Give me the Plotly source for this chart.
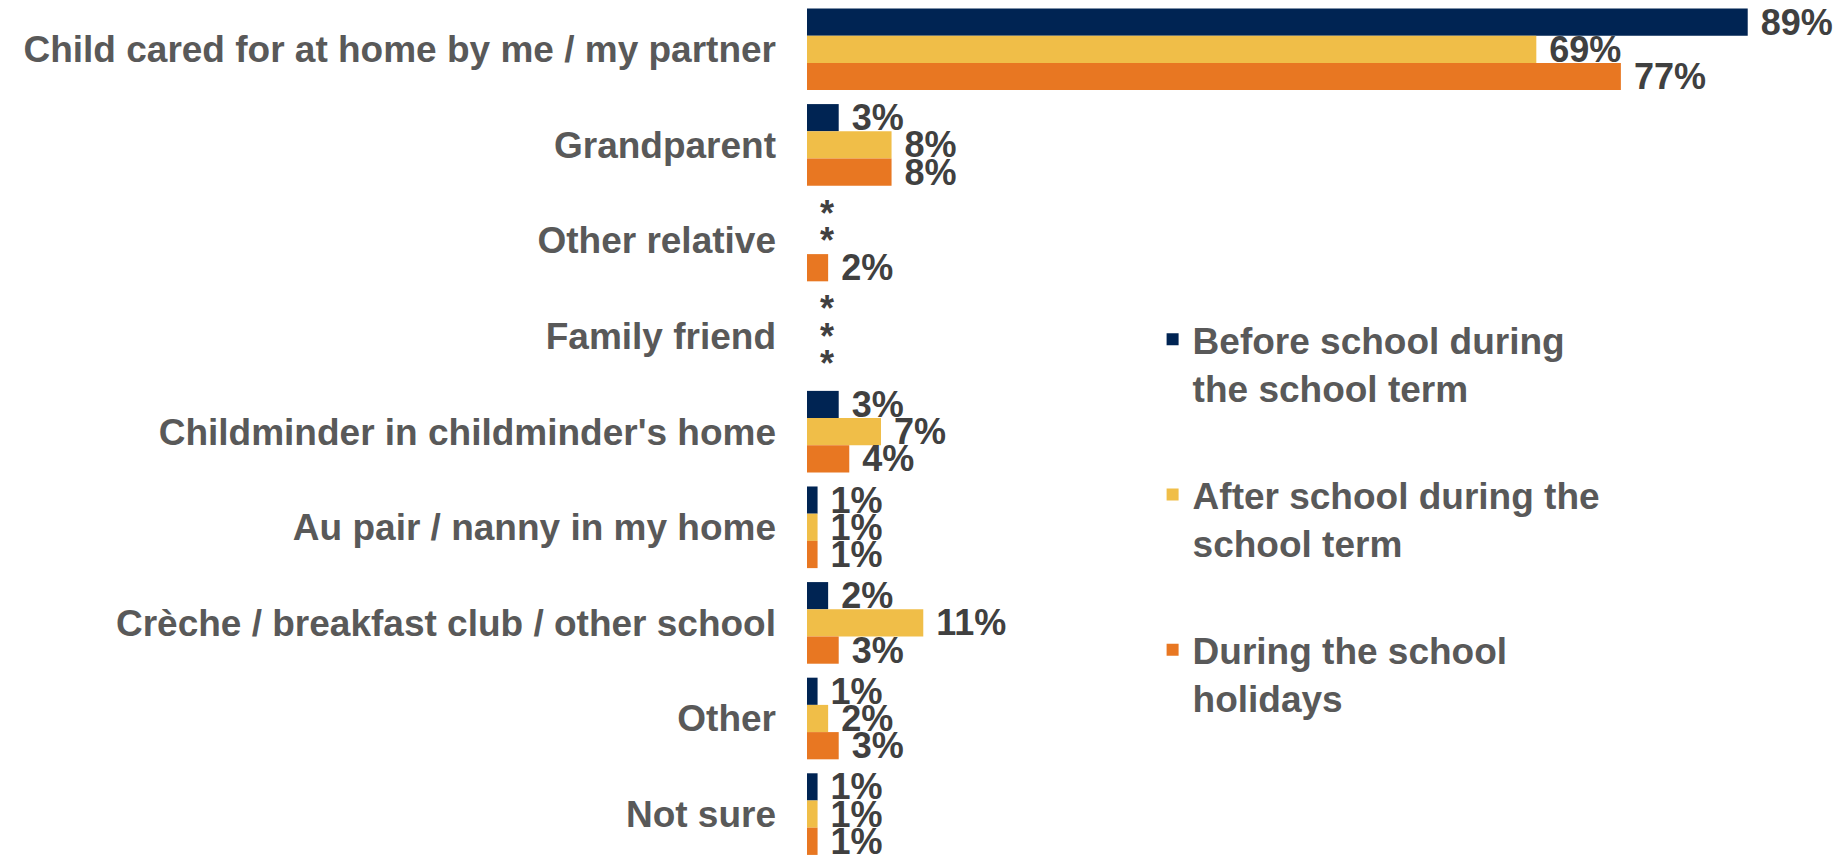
import plotly.graph_objects as go

categories = [
    "Child cared for at home by me / my partner",
    "Grandparent",
    "Other relative",
    "Family friend",
    "Childminder in childminder's home",
    "Au pair / nanny in my home",
    "Crèche / breakfast club / other school",
    "Other",
    "Not sure",
]
series_names = [
    "Before school during<br>the school term",
    "After school during the<br>school term",
    "During the school<br>holidays",
]
# None = shown as "*" in the original chart
before_term = [89, 3, None, None, 3, 1, 2, 1, 1]
after_term = [69, 8, None, None, 7, 1, 11, 2, 1]
holidays = [77, 8, 2, None, 4, 1, 3, 3, 1]
series_values = [before_term, after_term, holidays]
colors = ["#002453", "#F0BE48", "#E87722"]

FONT = "Liberation Sans, Arial, sans-serif"

fig = go.Figure()
for i, (name, vals, col) in enumerate(zip(series_names, series_values, colors)):
    xs = [v if v is not None else 0 for v in vals]
    txt = ["\u00a0" + (f"{v}%" if v is not None else "*") for v in vals]
    fig.add_trace(go.Bar(
        y=categories, x=xs, orientation="h", name=name,
        marker=dict(color=col, line=dict(width=0)),
        text=txt, textposition="outside", constraintext="none",
        cliponaxis=False,
        textfont=dict(family=FONT, size=36, color="#404040", weight="bold"),
        legendgroup=f"g{i}", hoverinfo="skip",
    ))

fig.update_layout(
    width=1845, height=856,
    margin=dict(l=799, r=0, t=0, b=0, pad=0),
    barmode="group", bargap=0.146, bargroupgap=0,
    paper_bgcolor="white", plot_bgcolor="white",
    font=dict(family=FONT),
    showlegend=True,
    legend=dict(
        x=0.3304, y=0.6486, xanchor="left", yanchor="top",
        traceorder="grouped", tracegroupgap=56, valign="top",
        font=dict(family=FONT, size=37, color="#595959", weight="bold"),
        bgcolor="rgba(0,0,0,0)",
    ),
    xaxis=dict(range=[0, 98.96], visible=False, fixedrange=True, automargin=False),
    yaxis=dict(
        type="category", categoryorder="array", categoryarray=categories,
        range=[8.522, -0.432], showgrid=False, zeroline=False, showline=False,
        ticks="", ticklabelstandoff=30, automargin=False,
        tickfont=dict(family=FONT, size=37, color="#595959", weight="bold"),
        fixedrange=True,
    ),
)

fig.write_html("out.html")
